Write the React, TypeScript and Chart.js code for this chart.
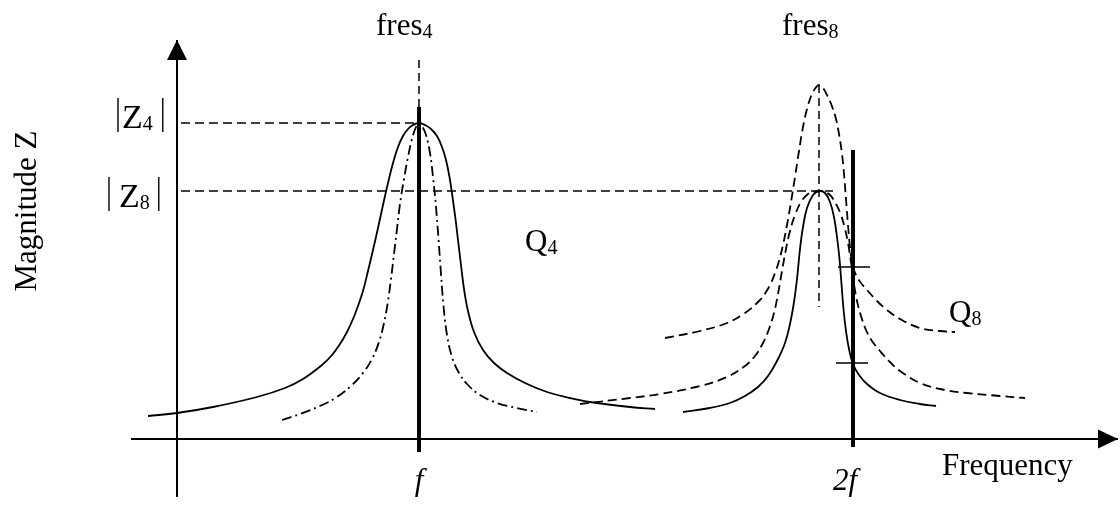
import React, { useEffect, useRef } from "react";
import { Chart, registerables } from "chart.js";

Chart.register(...registerables);

// Schematic units: frequency (y-axis at 0), magnitude (frequency axis at 0)
const F1 = 24.2; // f
const F2 = 67.6; // 2f
const FRES4 = 24.2;
const FRES8 = 64.2;
const Z4 = 31.6;
const Z8 = 24.8;

// Q4 resonance (solid, wide)
const q4SolidFreq = [-2.9, 0, 3.6, 8.0, 10.8, 12.6, 14.5, 15.5, 16.3, 17.0, 17.6, 18.1, 18.6, 19.1, 19.6, 20.1, 20.6, 21.1, 21.6, 22.1, 22.6, 23.1, 23.6, 24.2, 24.8, 25.4, 26.0, 26.5, 26.9, 27.25, 27.55, 27.85, 28.1, 28.4, 28.7, 29.1, 29.7, 30.6, 31.7, 33.0, 34.8, 37.0, 39.3, 41.3, 45.3, 47.8];
const q4SolidMag = [2.3, 2.6, 3.2, 4.2, 5.1, 6.0, 7.4, 8.4, 9.5, 10.7, 12.0, 13.3, 14.8, 16.8, 18.9, 21.1, 23.4, 25.6, 27.6, 29.2, 30.3, 31.0, 31.4, 31.6, 31.4, 31.0, 30.3, 29.2, 27.9, 26.2, 24.2, 22.0, 19.9, 17.4, 15.0, 12.8, 10.7, 8.9, 7.6, 6.6, 5.6, 4.7, 4.1, 3.7, 3.2, 3.0];

// Q4 resonance (dash-dot, narrow)
const q4NarrowFreq = [10.5, 12.3, 14.3, 16.0, 17.5, 18.6, 19.5, 20.2, 20.7, 21.1, 21.4, 21.7, 22.0, 22.3, 22.7, 23.1, 23.5, 23.9, 24.2, 24.5, 24.9, 25.3, 25.6, 25.9, 26.15, 26.4, 26.65, 27.0, 27.5, 28.2, 29.1, 30.3, 32.0, 34.0, 36.0];
const q4NarrowMag = [1.9, 2.5, 3.3, 4.2, 5.4, 6.6, 8.0, 9.7, 11.6, 13.8, 16.0, 18.5, 21.0, 23.5, 26.0, 28.2, 30.0, 31.2, 31.6, 31.3, 30.4, 28.6, 26.2, 23.2, 20.0, 16.5, 13.3, 10.4, 8.2, 6.6, 5.4, 4.4, 3.6, 3.1, 2.7];

// Q8 resonance (solid)
const q8SolidFreq = [50.6, 53.3, 55.3, 56.8, 58.1, 59.1, 60.0, 60.8, 61.3, 61.7, 62.0, 62.3, 62.6, 63.0, 63.6, 64.2, 64.8, 65.3, 65.7, 66.0, 66.25, 66.45, 66.65, 66.9, 67.2, 67.6, 68.2, 69.0, 70.3, 72.3, 74.3, 75.9];
const q8SolidMag = [2.7, 3.1, 3.6, 4.3, 5.2, 6.3, 7.8, 9.6, 11.5, 13.7, 16.0, 19.0, 21.2, 23.1, 24.4, 24.8, 24.6, 23.7, 22.2, 20.2, 18.0, 15.5, 13.0, 10.8, 9.0, 7.5, 6.4, 5.5, 4.6, 3.9, 3.5, 3.3];

// Q8 resonance (dashed, tall)
const q8TallFreq = [48.8, 52.3, 55.0, 56.8, 58.3, 58.9, 59.4, 59.8, 60.2, 60.6, 61.0, 61.4, 61.8, 62.2, 62.6, 63.0, 63.45, 63.85, 64.2, 64.6, 65.0, 65.45, 65.9, 66.2, 66.5, 66.7, 66.9, 67.1, 67.3, 67.6, 67.9, 68.4, 69.0, 70.0, 71.0, 72.3, 74.3, 76.3, 77.8];
const q8TallMag = [10.1, 10.8, 11.6, 12.6, 13.9, 14.7, 15.6, 16.6, 17.8, 19.4, 21.4, 23.7, 26.2, 28.8, 31.2, 33.0, 34.4, 35.1, 35.4, 35.1, 34.4, 33.4, 32.0, 30.5, 28.5, 26.5, 24.0, 21.4, 19.2, 17.2, 16.4, 15.6, 14.9, 13.8, 12.9, 12.0, 11.1, 10.8, 10.7];

// Q8 resonance (dashed, medium)
const q8MidFreq = [40.3, 45.3, 48.3, 52.3, 55.0, 56.8, 57.8, 58.6, 59.2, 59.7, 60.1, 60.5, 60.9, 61.3, 61.8, 62.4, 63.1, 63.7, 64.2, 64.7, 65.3, 65.9, 66.4, 66.8, 67.1, 67.4, 67.7, 68.0, 68.4, 68.9, 69.5, 70.3, 71.3, 72.3, 74.3, 76.8, 79.0, 82.3, 84.8];
const q8MidMag = [3.5, 4.1, 4.5, 5.3, 6.2, 7.3, 8.3, 9.6, 11.0, 12.6, 14.5, 16.8, 19.0, 20.8, 22.4, 23.7, 24.5, 24.7, 24.8, 24.7, 24.4, 23.5, 22.4, 21.0, 19.6, 17.7, 15.5, 13.8, 12.3, 10.9, 9.8, 8.8, 7.7, 6.8, 5.6, 4.9, 4.6, 4.3, 4.1];

// markers on 2f line
const tickMarksMag = [17.2, 7.6];
const tickMarksFreq = [[66.1, 69.3], [65.9, 69.1]];

// bars at f and 2f
const barF1Mag = [-1.3, 33.2];
const barF2Mag = [-0.8, 28.9];

// guide lines
const fres4LineMag = [37.9, 31.6];
const fres8LineMag = [35.4, 13.2];
const z4LineFreq = [0.4, FRES4];
const z8LineFreq = [0.4, 65.6];

// axes
const xAxisFreq = [-4.6, 94.1];
const yAxisMag = [-5.8, 39.9];

// texts
const TXT_FRES = "fres";
const TXT_SUB4 = "4";
const TXT_SUB8 = "8";
const TXT_Z = "Z";
const TXT_Q = "Q";
const TXT_F = "f";
const TXT_2F = "2f";
const TXT_XLABEL = "Frequency";
const TXT_YLABEL = "Magnitude Z";

const X_MIN = -17.7, X_MAX = 94.3, Y_MIN = -6.7, Y_MAX = 43.9;

const SERIF = "'Liberation Serif', 'Times New Roman', serif";

function pts(xs: number[], ys: number[]) {
  return xs.map((x, i) => ({ x, y: ys[i] }));
}

function ln(data: any[], width: number, dash: number[] = [], curve = false) {
  return {
    data,
    showLine: true,
    pointRadius: 0,
    pointHoverRadius: 0,
    borderColor: "#000",
    backgroundColor: "#000",
    borderWidth: width,
    borderDash: dash,
    borderCapStyle: "butt",
    borderJoinStyle: "round",
    fill: false,
    tension: curve ? 0.4 : 0,
    clip: false,
  };
}

const overlay = {
  id: "overlay",
  afterDatasetsDraw(chart: any) {
    const ctx = chart.ctx;
    const xs = chart.scales.x;
    const ys = chart.scales.y;
    const px = (v: number) => xs.getPixelForValue(v);
    const py = (v: number) => ys.getPixelForValue(v);
    ctx.save();
    ctx.fillStyle = "#000";
    ctx.strokeStyle = "#000";

    // arrowheads
    const yTipX = px(0), yTipY = py(yAxisMag[1]);
    ctx.beginPath();
    ctx.moveTo(yTipX, yTipY);
    ctx.lineTo(yTipX - 10, yTipY + 20);
    ctx.lineTo(yTipX + 10, yTipY + 20);
    ctx.closePath();
    ctx.fill();
    const xTipX = px(xAxisFreq[1]), xTipY = py(0);
    ctx.beginPath();
    ctx.moveTo(xTipX, xTipY);
    ctx.lineTo(xTipX - 20, xTipY - 9.5);
    ctx.lineTo(xTipX - 20, xTipY + 9.5);
    ctx.closePath();
    ctx.fill();

    const subText = (x: number, y: number, main: string, sub: string, mainSize: number, drop: number) => {
      ctx.textAlign = "left";
      ctx.textBaseline = "alphabetic";
      ctx.font = `${mainSize}px ${SERIF}`;
      ctx.fillText(main, x, y);
      const w = ctx.measureText(main).width;
      ctx.font = `20px ${SERIF}`;
      ctx.fillText(sub, x + w, y + drop);
      return x + w + ctx.measureText(sub).width;
    };

    // fres labels
    subText(px(19.9), py(40.4), TXT_FRES, TXT_SUB4, 31, 3);
    subText(px(60.5), py(40.4), TXT_FRES, TXT_SUB8, 31, 3);

    // |Z| labels
    const absLabel = (x: number, y: number, sub: string, gapL: number, gapR: number) => {
      ctx.lineWidth = 1.4;
      ctx.beginPath();
      ctx.moveTo(x, y - 30);
      ctx.lineTo(x, y + 4);
      ctx.stroke();
      const end = subText(x + gapL, y, TXT_Z, sub, 34, 2);
      ctx.beginPath();
      ctx.moveTo(end + gapR, y - 30);
      ctx.lineTo(end + gapR, y + 4);
      ctx.stroke();
    };
    absLabel(px(-5.9), py(Z4 - 0.5), TXT_SUB4, 4, 10);
    absLabel(px(-6.8), py(Z8 - 1.6), TXT_SUB8, 10, 9);

    // Q labels
    subText(px(34.8), py(18.8), TXT_Q, TXT_SUB4, 31, 3);
    subText(px(77.2), py(11.7), TXT_Q, TXT_SUB8, 31, 3);

    // frequency tick labels
    ctx.font = `italic 31px ${SERIF}`;
    ctx.textAlign = "center";
    ctx.textBaseline = "alphabetic";
    ctx.fillText(TXT_F, px(F1), py(-5.1));
    ctx.fillText(TXT_2F, px(66.8), py(-5.1));

    // axis titles
    ctx.font = `31px ${SERIF}`;
    ctx.textAlign = "left";
    ctx.fillText(TXT_XLABEL, px(76.5), py(-3.6));
    ctx.save();
    ctx.translate(px(-14.1), py(22.8));
    ctx.rotate(-Math.PI / 2);
    ctx.textAlign = "center";
    ctx.fillText(TXT_YLABEL, 0, 0);
    ctx.restore();

    ctx.restore();
  },
};

export default function App() {
  const ref = useRef<HTMLCanvasElement | null>(null);
  useEffect(() => {
    document.body.style.margin = "0";
    const canvas = ref.current;
    if (!canvas) return;
    const datasets: any[] = [
      // axes
      ln(pts(xAxisFreq, [0, 0]), 2),
      ln(pts([0, 0], yAxisMag), 2),
      // guides
      ln(pts(z4LineFreq, [Z4, Z4]), 1.5, [9, 5]),
      ln(pts(z8LineFreq, [Z8, Z8]), 1.5, [9, 5]),
      ln(pts([FRES4, FRES4], fres4LineMag), 1.5, [8, 5]),
      ln(pts([FRES8, FRES8], fres8LineMag), 1.5, [8, 5]),
      // curves
      ln(pts(q4SolidFreq, q4SolidMag), 1.8, [], true),
      ln(pts(q4NarrowFreq, q4NarrowMag), 1.8, [10, 4, 2, 4], true),
      ln(pts(q8SolidFreq, q8SolidMag), 1.8, [], true),
      ln(pts(q8TallFreq, q8TallMag), 1.8, [9, 5], true),
      ln(pts(q8MidFreq, q8MidMag), 1.8, [9, 5], true),
      // bars
      ln(pts([F1, F1], barF1Mag), 4),
      ln(pts([F2, F2], barF2Mag), 4),
      // tick marks on 2f
      ln(pts(tickMarksFreq[0], [tickMarksMag[0], tickMarksMag[0]]), 1.5),
      ln(pts(tickMarksFreq[1], [tickMarksMag[1], tickMarksMag[1]]), 1.5),
    ];
    const chart = new Chart(canvas, {
      type: "scatter",
      data: { datasets },
      options: {
        animation: false,
        responsive: false,
        devicePixelRatio: 1,
        layout: { padding: 0 },
        plugins: { legend: { display: false }, tooltip: { enabled: false } },
        events: [],
        scales: {
          x: { type: "linear", display: false, min: X_MIN, max: X_MAX },
          y: { type: "linear", display: false, min: Y_MIN, max: Y_MAX },
        },
      } as any,
      plugins: [overlay],
    });
    return () => chart.destroy();
  }, []);
  return (
    <div style={{ width: 1120, height: 506, background: "#fff" }}>
      <canvas ref={ref} width={1120} height={506} style={{ display: "block" }} />
    </div>
  );
}
